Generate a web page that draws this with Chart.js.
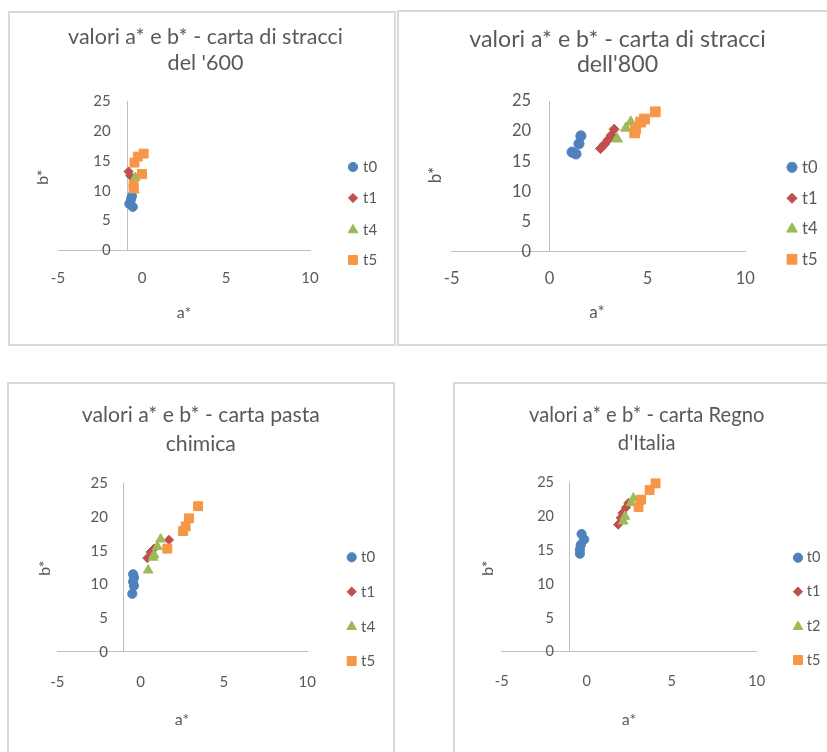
<!DOCTYPE html>
<html lang="it">
<head>
  <meta charset="UTF-8" />
  <title>valori a* e b*</title>
  <script src="https://cdn.jsdelivr.net/npm/chart.js"></script>
  <style>
    body {
      margin: 0;
      width: 827px;
      height: 752px;
      overflow: hidden;
      background: #fff;
      position: relative;
    }

    .box {
      position: absolute;
      box-shadow: inset 0 0 0 2px #d9d9d9;
    }

    .box canvas {
      display: block;
    }
  </style>
</head>
<body>

<script>
// tick e titoli degli assi
const xTicks = [-5, 0, 5, 10];
const yTicks = [0, 5, 10, 15, 20, 25];
const xTitle = 'a*';
const yTitle = 'b*';

// carta di stracci del '600  -  coppie [a*, b*]
const names600 = ['t0', 't1', 't4', 't5'];
const s600_t0 = [[-0.6, 9.1], [-0.65, 8.6], [-0.75, 7.8], [-0.55, 7.3]];
const s600_t1 = [[-0.8, 13.2], [-0.7, 12.5]];
const s600_t4 = [[-0.4, 12.2], [-0.45, 10.1]];
const s600_t5 = [[0.1, 16.2], [-0.25, 15.7], [-0.45, 14.7], [0.0, 12.8], [-0.5, 10.9], [-0.5, 10.4]];

// carta di stracci dell'800
const names800 = ['t0', 't1', 't4', 't5'];
const s800_t0 = [[1.6, 19.2], [1.5, 17.9], [1.15, 16.5], [1.35, 16.2]];
const s800_t1 = [[2.6, 17.1], [2.8, 17.8], [3.0, 18.6], [3.15, 19.3], [3.3, 20.3]];
const s800_t4 = [[3.45, 18.7], [3.9, 20.5], [4.15, 21.5]];
const s800_t5 = [[4.35, 19.7], [4.4, 20.4], [4.65, 21.5], [4.85, 22.0], [5.4, 23.2]];

// carta pasta chimica
const namesPasta = ['t0', 't1', 't4', 't5'];
const pasta_t0 = [[-0.45, 11.5], [-0.4, 11.0], [-0.45, 10.4], [-0.4, 9.8], [-0.5, 8.6]];
const pasta_t1 = [[0.4, 13.9], [0.6, 14.8], [0.8, 15.3], [1.7, 16.6]];
const pasta_t4 = [[0.45, 12.1], [0.75, 14.0], [0.8, 14.4], [1.0, 15.6], [1.2, 16.7]];
const pasta_t5 = [[1.6, 15.3], [2.55, 17.9], [2.7, 18.6], [2.9, 19.8], [3.45, 21.6]];

// carta Regno d'Italia
const namesRegno = ['t0', 't1', 't2', 't5'];
const regno_t0 = [[-0.3, 17.4], [-0.15, 16.6], [-0.35, 15.8], [-0.4, 15.1], [-0.4, 14.5]];
const regno_t1 = [[1.85, 18.8], [2.0, 19.8], [2.1, 20.5], [2.3, 21.3], [2.45, 22.0]];
const regno_t2 = [[2.15, 19.3], [2.25, 20.0], [2.6, 22.0], [2.75, 22.7]];
const regno_t5 = [[3.05, 21.4], [3.2, 22.5], [3.7, 23.9], [4.05, 24.9]];

const FONT = "Lato, 'Liberation Sans', sans-serif";
const TEXT = '#595959';
const AXIS = '#bfbfbf';
const seriesColors = ['#4f81bd', '#c0504d', '#9bbb59', '#f79646'];
const seriesShapes = ['circle', 'rectRot', 'triangle', 'rect'];
const shapeRadius = [4.6, 4.6, 5.6, 6.3];

// page coordinates of each chart (box, plot area, texts, legend)
const charts = [
  { box: [8, 11, 388, 335], title: ['valori a* e b* - carta di stracci', "del '600"],
    names: names600, series: [s600_t0, s600_t1, s600_t4, s600_t5],
    x0: 58, x1: 310, yTop: 101, yBot: 250.5, cross: -0.85,
    titleX: 205.5, titleY: [37, 63], titleSize: 21.5,
    tickSize: 15, xPad: 19, yPad: 17,
    ax: [184, 313], bx: [43, 177], axisSize: 16,
    legX: 353, legTextX: 363, legY: [167, 198, 230, 260], legSize: 15, k: 1 },
  { box: [397, 10, 440, 336], title: ['valori a* e b* - carta di stracci', "dell'800"],
    names: names800, series: [s800_t0, s800_t1, s800_t4, s800_t5],
    x0: 451.7, x1: 745.3, yTop: 101, yBot: 251.5, cross: 0,
    titleX: 617.5, titleY: [39.5, 64.5], titleSize: 23.2,
    tickSize: 16.5, xPad: 17, yPad: 18.5,
    ax: [597, 313], bx: [436, 175], axisSize: 17,
    legX: 792, legTextX: 802, legY: [167.3, 198.3, 229, 259.3], legSize: 16.5, k: 1.1 },
  { box: [7, 382, 388, 400], title: ['valori a* e b* - carta pasta', 'chimica'],
    names: namesPasta, series: [pasta_t0, pasta_t1, pasta_t4, pasta_t5],
    x0: 57.3, x1: 307.3, yTop: 483.3, yBot: 651.7, cross: -1,
    titleX: 200.8, titleY: [415.5, 444.5], titleSize: 21.2,
    tickSize: 15, xPad: 21, yPad: 16,
    ax: [182, 720], bx: [45, 568], axisSize: 16,
    legX: 351.7, legTextX: 361, legY: [557.3, 591.7, 626.7, 661], legSize: 15, k: 1 },
  { box: [453, 382, 400, 400], title: ['valori a* e b* - carta Regno', "d'Italia"],
    names: namesRegno, series: [regno_t0, regno_t1, regno_t2, regno_t5],
    x0: 501.7, x1: 756.7, yTop: 482.7, yBot: 651.7, cross: -1,
    titleX: 646.7, titleY: [415, 443.5], titleSize: 20.2,
    tickSize: 14.5, xPad: 21, yPad: 15.7,
    ax: [629, 720], bx: [488, 568], axisSize: 16,
    legX: 798, legTextX: 806.7, legY: [557.7, 591.7, 626.7, 660], legSize: 14.5, k: 1 }
];

// title, y tick labels, axis titles and legend, drawn on the canvas
const textPlugin = {
  id: 'texts',
  afterDraw(chart, args, o) {
    const ctx = chart.ctx;
    const dx = o.box[0], dy = o.box[1];
    const sx = chart.scales.x, sy = chart.scales.y;
    ctx.save();
    ctx.fillStyle = TEXT;
    ctx.textAlign = 'center';
    ctx.textBaseline = 'middle';

    ctx.font = o.titleSize + 'px ' + FONT;
    o.title.forEach((t, i) => ctx.fillText(t, o.titleX - dx, o.titleY[i] - dy));

    // the y axis crosses inside the plot: labels sit left of that line
    ctx.font = o.tickSize + 'px ' + FONT;
    ctx.textAlign = 'right';
    const lx = sx.getPixelForValue(o.cross) - o.yPad;
    yTicks.forEach(v => ctx.fillText(String(v), lx, sy.getPixelForValue(v)));

    ctx.textAlign = 'center';
    ctx.font = o.axisSize + 'px ' + FONT;
    ctx.fillText(xTitle, o.ax[0] - dx, o.ax[1] - dy);
    ctx.save();
    ctx.translate(o.bx[0] - dx, o.bx[1] - dy);
    ctx.rotate(-Math.PI / 2);
    ctx.fillText(yTitle, 0, 0);
    ctx.restore();

    ctx.font = o.legSize + 'px ' + FONT;
    ctx.textAlign = 'left';
    chart.data.datasets.forEach((ds, i) => {
      const y = o.legY[i] - dy;
      ctx.fillStyle = ds.backgroundColor;
      ctx.strokeStyle = ds.borderColor;
      ctx.lineWidth = 1;
      Chart.helpers.drawPoint(ctx, { pointStyle: ds.pointStyle, radius: ds.pointRadius, borderWidth: 1, rotation: 0 }, o.legX - dx, y);
      ctx.fillStyle = TEXT;
      ctx.fillText(ds.label, o.legTextX - dx, y);
    });
    ctx.restore();
  }
};

function build(cfg) {
  const [bx, by, bw, bh] = cfg.box;
  const wrap = document.createElement('div');
  wrap.className = 'box';
  wrap.style.cssText = `left:${bx}px;top:${by}px;width:${bw}px;height:${bh}px`;
  const canvas = document.createElement('canvas');
  canvas.width = bw;
  canvas.height = bh;
  wrap.appendChild(canvas);
  document.body.appendChild(wrap);

  const n = cfg.series.length;
  new Chart(canvas, {
    type: 'scatter',
    data: {
      datasets: cfg.series.map((pts, i) => ({
        label: cfg.names[i],
        data: pts.map(p => ({ x: p[0], y: p[1] })),
        pointStyle: seriesShapes[i],
        pointRadius: shapeRadius[i] * cfg.k,
        backgroundColor: seriesColors[i],
        borderColor: seriesColors[i],
        borderWidth: 1,
        clip: false,
        order: n - i
      }))
    },
    options: {
      responsive: false,
      animation: false,
      events: [],
      layout: {
        padding: {
          left: cfg.x0 - bx,
          right: bx + bw - cfg.x1,
          top: cfg.yTop - by,
          bottom: by + bh - cfg.yBot
        }
      },
      plugins: {
        legend: { display: false },
        tooltip: { enabled: false },
        texts: cfg
      },
      scales: {
        x: {
          type: 'linear', min: -5, max: 10,
          position: { y: 0 },
          afterBuildTicks: s => { s.ticks = xTicks.map(v => ({ value: v })); },
          grid: { display: false, drawTicks: false },
          border: { display: true, color: AXIS, width: 1 },
          ticks: { color: TEXT, font: { family: FONT, size: cfg.tickSize }, padding: cfg.xPad, maxRotation: 0 }
        },
        y: {
          type: 'linear', min: 0, max: 25,
          position: { x: cfg.cross },
          afterBuildTicks: s => { s.ticks = yTicks.map(v => ({ value: v })); },
          grid: { display: false, drawTicks: false },
          border: { display: true, color: AXIS, width: 1 },
          ticks: { display: false }
        }
      }
    },
    plugins: [textPlugin]
  });
}

charts.forEach(build);
</script>

</body>
</html>
